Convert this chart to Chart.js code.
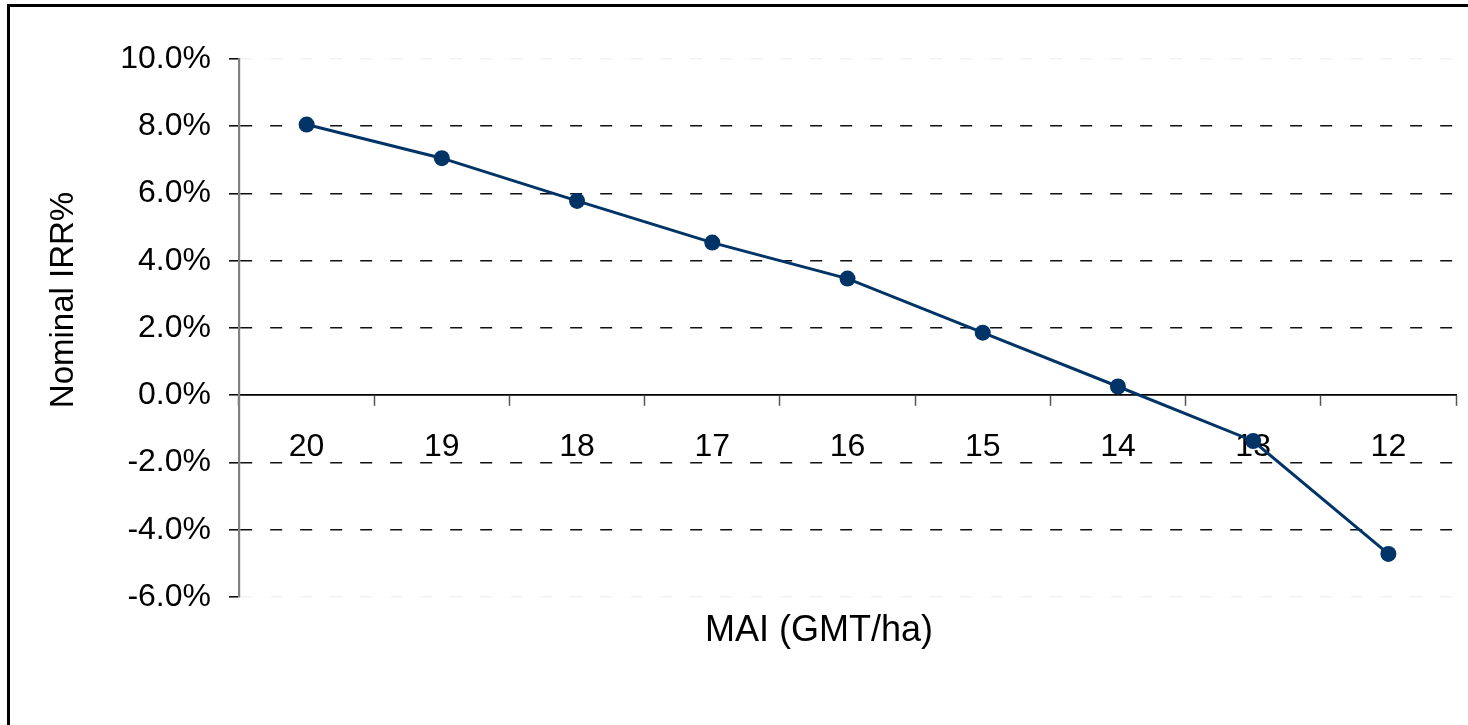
<!DOCTYPE html>
<html>
<head>
<meta charset="utf-8">
<title>Nominal IRR% by MAI</title>
<script src="https://cdn.jsdelivr.net/npm/chart.js@4/dist/chart.umd.min.js"></script>
<style>
  html, body { margin: 0; padding: 0; background: #fff; overflow: hidden; }
  #wrap { position: relative; width: 1468px; height: 725px; }
  #frame { position: absolute; left: 7px; top: 4px; width: 1520px; height: 800px;
           border: 3px solid #000; box-sizing: border-box; pointer-events: none; }
  canvas { position: absolute; left: 0; top: 0; }
</style>
</head>
<body>
<div id="wrap">
  <canvas id="chart" width="1468" height="725"></canvas>
  <div id="frame"></div>
</div>
<script>
// MAI classes (GMT/ha), highest yield first
const categories = ['20', '19', '18', '17', '16', '15', '14', '13', '12'];
// Nominal IRR in percent for each MAI class
const irrValues = [8.05, 7.05, 5.78, 4.54, 3.47, 1.86, 0.26, -1.36, -4.72];
// Value axis range and step (percent)
const yMin = -6;
const yMax = 10;
const yStep = 2;
const xTitle = 'MAI (GMT/ha)';
const yTitle = 'Nominal IRR%';

const FONT = '"Liberation Sans", Arial, sans-serif';
const NAVY = '#003366';

// Axis titles placed freely around the plot area
const axisTitles = {
  id: 'axisTitles',
  afterDraw(chart) {
    const { ctx, chartArea: a } = chart;
    ctx.save();
    ctx.fillStyle = '#000';
    ctx.textAlign = 'center';
    ctx.textBaseline = 'alphabetic';
    ctx.font = '36px ' + FONT;
    ctx.fillText(xTitle, a.left + 580, a.bottom + 44);
    ctx.font = '33px ' + FONT;
    ctx.translate(a.left - 166, a.top + 241);
    ctx.rotate(-Math.PI / 2);
    ctx.fillText(yTitle, 0, 0);
    ctx.restore();
  }
};

new Chart(document.getElementById('chart'), {
  type: 'line',
  data: {
    labels: categories,
    datasets: [{
      data: irrValues,
      borderColor: NAVY,
      borderWidth: 3,
      backgroundColor: NAVY,
      pointBackgroundColor: NAVY,
      pointBorderColor: NAVY,
      pointBorderWidth: 0,
      pointRadius: 8,
      tension: 0,
      fill: false
    }]
  },
  options: {
    responsive: false,
    animation: false,
    devicePixelRatio: 1,
    layout: { padding: { left: 0, top: 59, right: 12, bottom: 128 } },
    plugins: { legend: { display: false }, tooltip: { enabled: false }, title: { display: false } },
    scales: {
      x: {
        type: 'category',
        position: { y: 0 },
        offset: true,
        grid: {
          offset: true,
          drawOnChartArea: false,
          drawTicks: true,
          tickLength: 10,
          tickColor: '#555',
          tickWidth: 1.5
        },
        border: { display: true, color: '#000', width: 1.8 },
        ticks: {
          color: '#000',
          font: { family: FONT, size: 32 },
          padding: 23,
          maxRotation: 0,
          autoSkip: false
        }
      },
      y: {
        min: yMin,
        max: yMax,
        afterFit(scale) { scale.width = 239; },
        grid: {
          drawTicks: true,
          tickLength: 10,
          tickColor: '#000',
          tickWidth: 1.5,
          lineWidth: 1.6,
          color(ctx) {
            const v = ctx.tick ? ctx.tick.value : null;
            if (v === 0) return 'rgba(0,0,0,0)';
            if (v === yMin || v === yMax) return 'rgba(0,0,0,0.05)';
            return '#111';
          }
        },
        border: { display: true, color: '#808080', width: 2.2, dash: [12, 18] },
        ticks: {
          stepSize: yStep,
          color: '#000',
          font: { family: FONT, size: 32 },
          padding: 18,
          callback: (v) => v.toFixed(1) + '%'
        }
      }
    }
  },
  plugins: [axisTitles]
});
</script>
</body>
</html>
